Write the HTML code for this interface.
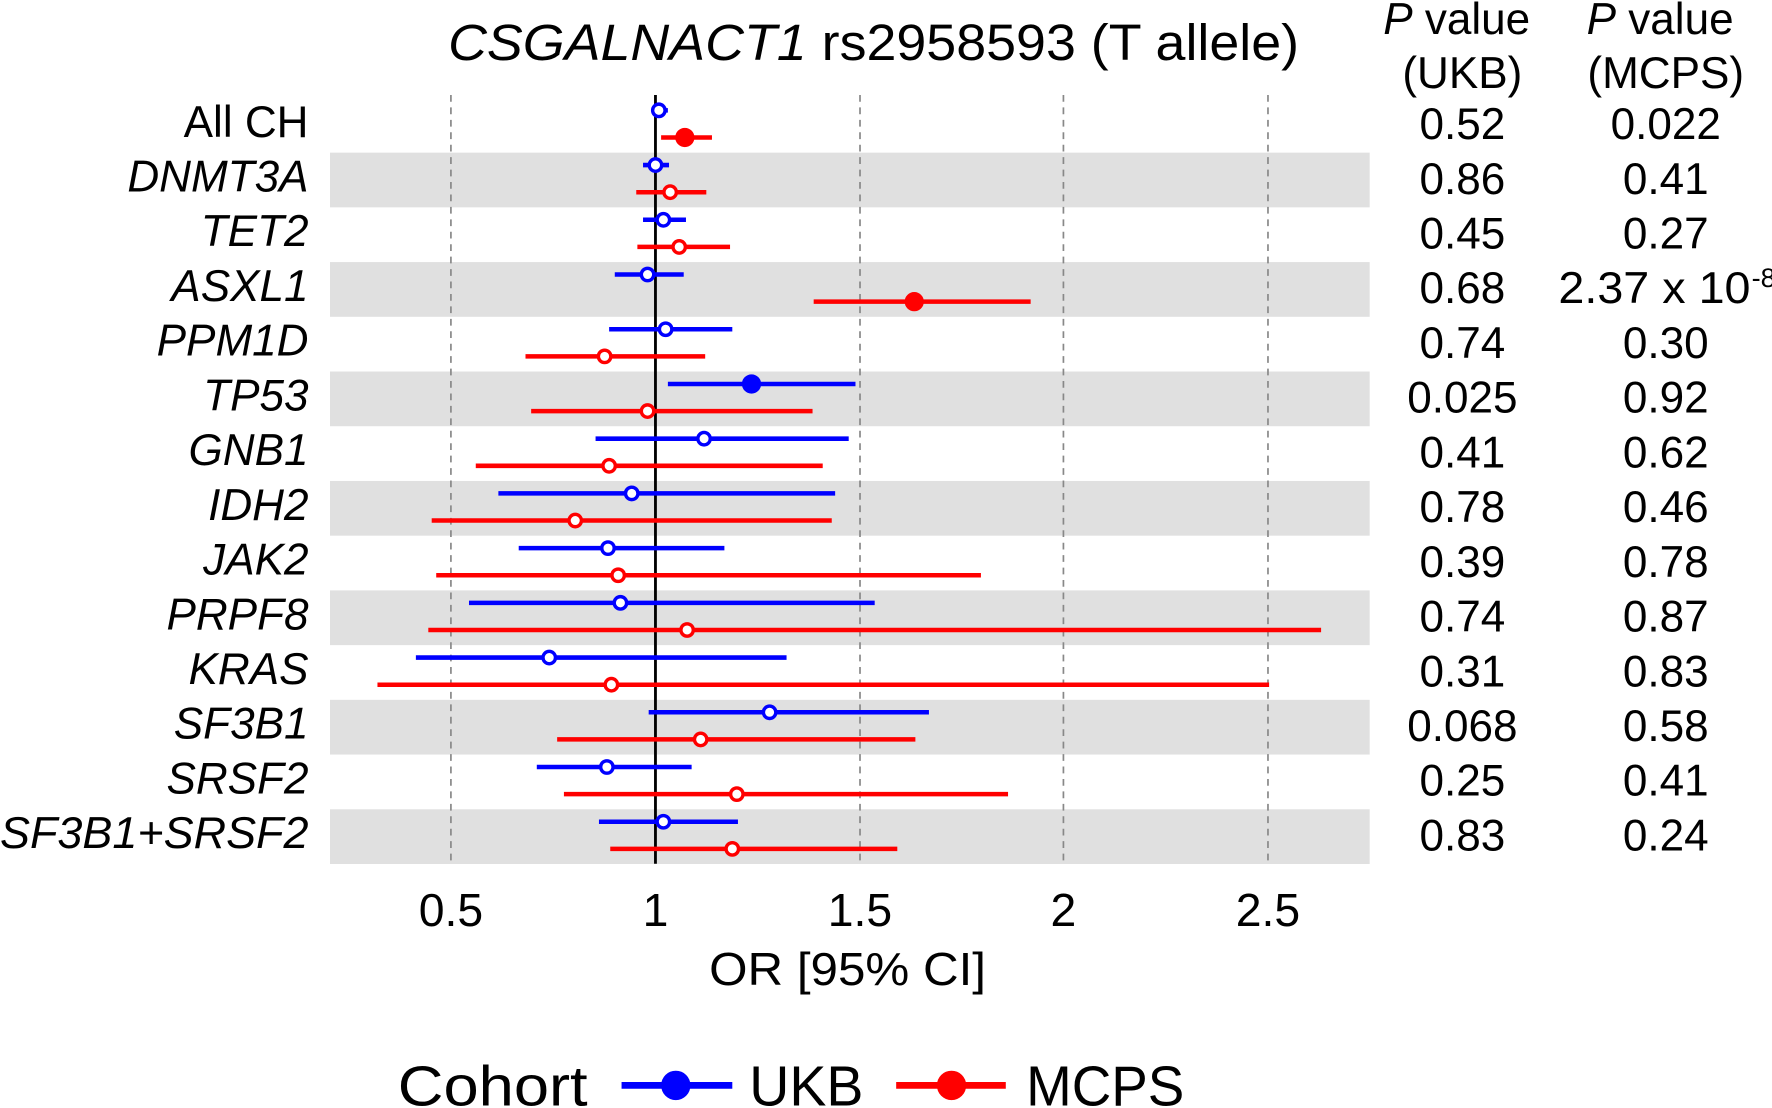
<!DOCTYPE html>
<html><head><meta charset="utf-8"><style>html,body{margin:0;padding:0;background:#fff}svg{display:block}</style></head>
<body>
<svg width="1772" height="1108" viewBox="0 0 1568 980" preserveAspectRatio="none" xmlns="http://www.w3.org/2000/svg" font-family="Liberation Sans, Arial, sans-serif">
<g fill="#e0e0e0">
<rect x="292" y="135" width="920" height="48.4"/>
<rect x="292" y="231.8" width="920" height="48.4"/>
<rect x="292" y="328.6" width="920" height="48.4"/>
<rect x="292" y="425.4" width="920" height="48.4"/>
<rect x="292" y="522.2" width="920" height="48.4"/>
<rect x="292" y="619" width="920" height="48.4"/>
<rect x="292" y="715.8" width="920" height="48.4"/>
</g>
<g stroke="#888" stroke-width="1.5" stroke-dasharray="6,5">
<line x1="399" y1="84" x2="399" y2="764"/>
<line x1="761" y1="84" x2="761" y2="764"/>
<line x1="941" y1="84" x2="941" y2="764"/>
<line x1="1122" y1="84" x2="1122" y2="764"/>
</g>
<line x1="580" y1="84" x2="580" y2="764" stroke="#000" stroke-width="2.5"/>
<g stroke-width="4">
<line x1="580" x2="591" y1="97.6" y2="97.6" stroke="#00f"/><line x1="585" x2="630" y1="121.6" y2="121.6" stroke="#f00"/>
<line x1="569" x2="592" y1="146" y2="146" stroke="#00f"/><line x1="563" x2="625" y1="170" y2="170" stroke="#f00"/>
<line x1="569" x2="607" y1="194.4" y2="194.4" stroke="#00f"/><line x1="564" x2="646" y1="218.4" y2="218.4" stroke="#f00"/>
<line x1="544" x2="605" y1="242.8" y2="242.8" stroke="#00f"/><line x1="720" x2="912" y1="266.8" y2="266.8" stroke="#f00"/>
<line x1="539" x2="648" y1="291.2" y2="291.2" stroke="#00f"/><line x1="465" x2="624" y1="315.2" y2="315.2" stroke="#f00"/>
<line x1="591" x2="757" y1="339.6" y2="339.6" stroke="#00f"/><line x1="470" x2="719" y1="363.6" y2="363.6" stroke="#f00"/>
<line x1="527" x2="751" y1="388" y2="388" stroke="#00f"/><line x1="421" x2="728" y1="412" y2="412" stroke="#f00"/>
<line x1="441" x2="739" y1="436.4" y2="436.4" stroke="#00f"/><line x1="382" x2="736" y1="460.4" y2="460.4" stroke="#f00"/>
<line x1="459" x2="641" y1="484.8" y2="484.8" stroke="#00f"/><line x1="386" x2="868" y1="508.8" y2="508.8" stroke="#f00"/>
<line x1="415" x2="774" y1="533.2" y2="533.2" stroke="#00f"/><line x1="379" x2="1169" y1="557.2" y2="557.2" stroke="#f00"/>
<line x1="368" x2="696" y1="581.6" y2="581.6" stroke="#00f"/><line x1="334" x2="1123" y1="605.6" y2="605.6" stroke="#f00"/>
<line x1="574" x2="822" y1="630" y2="630" stroke="#00f"/><line x1="493" x2="810" y1="654" y2="654" stroke="#f00"/>
<line x1="475" x2="612" y1="678.4" y2="678.4" stroke="#00f"/><line x1="499" x2="892" y1="702.4" y2="702.4" stroke="#f00"/>
<line x1="530" x2="653" y1="726.8" y2="726.8" stroke="#00f"/><line x1="540" x2="794" y1="750.8" y2="750.8" stroke="#f00"/>
</g>
<g stroke-width="3" fill="#fff">
<circle cx="583" cy="97.6" r="5.5" stroke="#00f"/><circle cx="606" cy="121.6" r="7" stroke="#f00" fill="#f00"/>
<circle cx="580" cy="146" r="5.5" stroke="#00f"/><circle cx="593" cy="170" r="5.5" stroke="#f00"/>
<circle cx="587" cy="194.4" r="5.5" stroke="#00f"/><circle cx="601" cy="218.4" r="5.5" stroke="#f00"/>
<circle cx="573" cy="242.8" r="5.5" stroke="#00f"/><circle cx="809" cy="266.8" r="7" stroke="#f00" fill="#f00"/>
<circle cx="589" cy="291.2" r="5.5" stroke="#00f"/><circle cx="535" cy="315.2" r="5.5" stroke="#f00"/>
<circle cx="665" cy="339.6" r="7" stroke="#00f" fill="#00f"/><circle cx="573" cy="363.6" r="5.5" stroke="#f00"/>
<circle cx="623" cy="388" r="5.5" stroke="#00f"/><circle cx="539" cy="412" r="5.5" stroke="#f00"/>
<circle cx="559" cy="436.4" r="5.5" stroke="#00f"/><circle cx="509" cy="460.4" r="5.5" stroke="#f00"/>
<circle cx="538" cy="484.8" r="5.5" stroke="#00f"/><circle cx="547" cy="508.8" r="5.5" stroke="#f00"/>
<circle cx="549" cy="533.2" r="5.5" stroke="#00f"/><circle cx="608" cy="557.2" r="5.5" stroke="#f00"/>
<circle cx="486" cy="581.6" r="5.5" stroke="#00f"/><circle cx="541" cy="605.6" r="5.5" stroke="#f00"/>
<circle cx="681" cy="630" r="5.5" stroke="#00f"/><circle cx="620" cy="654" r="5.5" stroke="#f00"/>
<circle cx="537" cy="678.4" r="5.5" stroke="#00f"/><circle cx="652" cy="702.4" r="5.5" stroke="#f00"/>
<circle cx="587" cy="726.8" r="5.5" stroke="#00f"/><circle cx="648" cy="750.8" r="5.5" stroke="#f00"/>
</g>
<g font-size="39" text-anchor="end" fill="#000">
<text x="273" y="121">All CH</text>
<g font-style="italic">
<text x="273" y="169.4">DNMT3A</text>
<text x="273" y="217.8">TET2</text>
<text x="273" y="266.2">ASXL1</text>
<text x="273" y="314.6">PPM1D</text>
<text x="273" y="363">TP53</text>
<text x="273" y="411.4">GNB1</text>
<text x="273" y="459.8">IDH2</text>
<text x="273" y="508.2">JAK2</text>
<text x="273" y="556.6">PRPF8</text>
<text x="273" y="605">KRAS</text>
<text x="273" y="653.4">SF3B1</text>
<text x="273" y="701.8">SRSF2</text>
<text x="273" y="750.2" textLength="273" lengthAdjust="spacingAndGlyphs">SF3B1+SRSF2</text>
</g></g>
<g font-size="39" text-anchor="middle">
<text x="1294" y="123">0.52</text><text x="1474" y="123">0.022</text>
<text x="1294" y="171.4">0.86</text><text x="1474" y="171.4">0.41</text>
<text x="1294" y="219.8">0.45</text><text x="1474" y="219.8">0.27</text>
<text x="1294" y="268.2">0.68</text>
<text x="1294" y="316.6">0.74</text><text x="1474" y="316.6">0.30</text>
<text x="1294" y="365">0.025</text><text x="1474" y="365">0.92</text>
<text x="1294" y="413.4">0.41</text><text x="1474" y="413.4">0.62</text>
<text x="1294" y="461.8">0.78</text><text x="1474" y="461.8">0.46</text>
<text x="1294" y="510.2">0.39</text><text x="1474" y="510.2">0.78</text>
<text x="1294" y="558.6">0.74</text><text x="1474" y="558.6">0.87</text>
<text x="1294" y="607">0.31</text><text x="1474" y="607">0.83</text>
<text x="1294" y="655.4">0.068</text><text x="1474" y="655.4">0.58</text>
<text x="1294" y="703.8">0.25</text><text x="1474" y="703.8">0.41</text>
<text x="1294" y="752.2">0.83</text><text x="1474" y="752.2">0.24</text>
<text x="1289" y="30"><tspan font-style="italic">P</tspan> value</text>
<text x="1294" y="78">(UKB)</text>
<text x="1469" y="30"><tspan font-style="italic">P</tspan> value</text>
<text x="1474" y="78">(MCPS)</text>
</g>
<g font-size="41" text-anchor="middle">
<text x="399" y="819">0.5</text><text x="580" y="819">1</text><text x="761" y="819">1.5</text><text x="941" y="819">2</text><text x="1122" y="819">2.5</text>
<text x="750" y="871" textLength="245" lengthAdjust="spacingAndGlyphs">OR [95% CI]</text>
</g>
<text x="1379" y="268.2" font-size="39" textLength="170" lengthAdjust="spacingAndGlyphs">2.37 x 10</text>
<text x="1550" y="254" font-size="24">-8</text>
<text x="773" y="53" font-size="45" text-anchor="middle" textLength="753" lengthAdjust="spacingAndGlyphs"><tspan font-style="italic">CSGALNACT1</tspan> rs2958593  (T allele)</text>
<g font-size="50">
<text x="352" y="978" textLength="168" lengthAdjust="spacingAndGlyphs">Cohort</text>
<line x1="550" y1="960" x2="648" y2="960" stroke="#00f" stroke-width="6"/>
<circle cx="598" cy="960" r="13" fill="#00f"/>
<text x="663" y="978" textLength="101" lengthAdjust="spacingAndGlyphs">UKB</text>
<line x1="793" y1="960" x2="890" y2="960" stroke="#f00" stroke-width="6"/>
<circle cx="842" cy="960" r="13" fill="#f00"/>
<text x="908" y="978" textLength="140" lengthAdjust="spacingAndGlyphs">MCPS</text>
</g>
</svg>
</body></html>
